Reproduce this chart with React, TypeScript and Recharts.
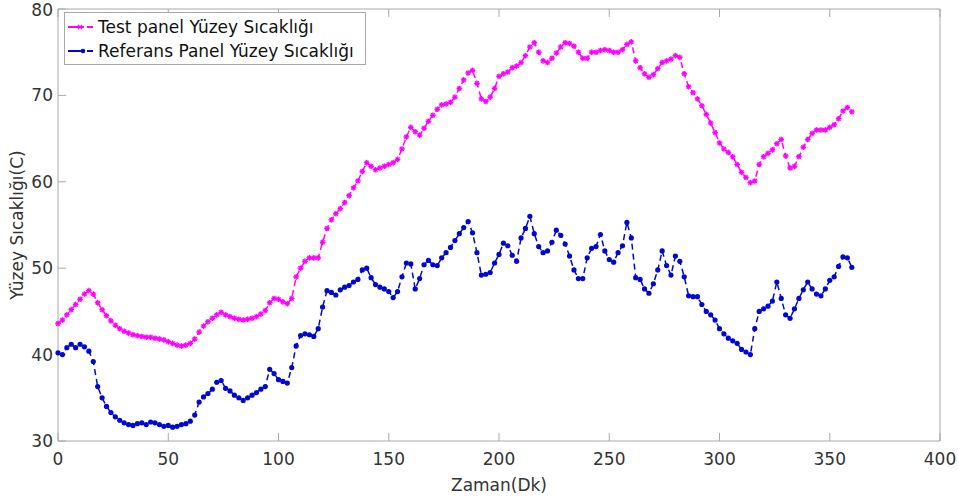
import React from "react";
import { LineChart, Line, XAxis, YAxis } from "recharts";

// Zaman (dakika) ekseni
const minutes = [
  0, 2, 4, 6, 8, 10, 12, 14, 16, 18, 20, 22, 24, 26, 28, 30, 32, 34, 36, 38,
  40, 42, 44, 46, 48, 50, 52, 54, 56, 58, 60, 62, 64, 66, 68, 70, 72, 74, 76, 78,
  80, 82, 84, 86, 88, 90, 92, 94, 96, 98, 100, 102, 104, 106, 108, 110, 112, 114, 116, 118,
  120, 122, 124, 126, 128, 130, 132, 134, 136, 138, 140, 142, 144, 146, 148, 150, 152, 154, 156, 158,
  160, 162, 164, 166, 168, 170, 172, 174, 176, 178, 180, 182, 184, 186, 188, 190, 192, 194, 196, 198,
  200, 202, 204, 206, 208, 210, 212, 214, 216, 218, 220, 222, 224, 226, 228, 230, 232, 234, 236, 238,
  240, 242, 244, 246, 248, 250, 252, 254, 256, 258, 260, 262, 264, 266, 268, 270, 272, 274, 276, 278,
  280, 282, 284, 286, 288, 290, 292, 294, 296, 298, 300, 302, 304, 306, 308, 310, 312, 314, 316, 318,
  320, 322, 324, 326, 328, 330, 332, 334, 336, 338, 340, 342, 344, 346, 348, 350, 352, 354, 356, 358,
  360,
];

// Test paneli yüzey sıcaklığı
const testPanel = [
  43.6, 44.0, 44.6, 45.2, 45.8, 46.4, 47.0, 47.4, 47.0, 46.0, 45.2, 44.5, 43.9, 43.4, 43.0, 42.7, 42.5, 42.3, 42.2, 42.1,
  42.0, 42.0, 41.9, 41.8, 41.7, 41.5, 41.3, 41.1, 41.0, 41.1, 41.3, 41.8, 42.6, 43.3, 43.8, 44.2, 44.6, 44.9, 44.6, 44.4,
  44.2, 44.1, 44.0, 44.1, 44.2, 44.4, 44.7, 45.1, 46.0, 46.5, 46.4, 46.1, 45.9, 46.5, 49.0, 50.0, 50.8, 51.2, 51.2, 51.2,
  53.0, 54.6, 55.6, 56.3, 56.9, 57.6, 58.4, 59.3, 60.1, 61.2, 62.2, 61.8, 61.4, 61.6, 61.8, 62.0, 62.2, 62.6, 63.8, 65.2,
  66.3, 65.8, 65.4, 66.2, 67.0, 67.7, 68.4, 68.9, 69.0, 69.2, 69.8, 70.8, 71.8, 72.6, 72.9, 71.4, 69.6, 69.3, 69.8, 70.8,
  72.2, 72.5, 72.7, 73.2, 73.4, 73.8, 74.6, 75.6, 76.1, 75.0, 74.0, 73.8, 74.3, 74.9, 75.6, 76.1, 76.0, 75.7, 75.0, 74.3,
  74.3, 75.0, 75.0, 75.2, 75.3, 75.2, 75.0, 75.0, 75.3, 75.9, 76.2, 74.0, 73.2, 72.5, 72.1, 72.4, 73.1, 73.8, 74.0, 74.2,
  74.6, 74.4, 72.5, 71.0, 70.3, 69.6, 68.8, 67.8, 66.8, 65.7, 64.5, 63.8, 63.4, 62.9, 62.0, 61.1, 60.5, 59.9, 60.1, 62.0,
  62.9, 63.3, 63.7, 64.4, 64.9, 63.0, 61.6, 61.8, 62.9, 64.0, 64.9, 65.6, 66.0, 66.0, 66.0, 66.3, 66.6, 67.3, 68.2, 68.6,
  68.1,
];

// Referans paneli yüzey sıcaklığı
const referansPanel = [
  40.2, 40.0, 40.8, 41.2, 40.8, 41.2, 40.9, 40.4, 39.2, 36.3, 35.0, 34.0, 33.3, 32.8, 32.4, 32.1, 31.9, 31.8, 32.0, 32.1,
  31.9, 32.2, 32.1, 31.9, 31.7, 31.8, 31.6, 31.7, 31.9, 32.0, 32.3, 33.0, 34.5, 35.1, 35.5, 36.0, 36.8, 37.0, 36.1, 35.8,
  35.3, 35.0, 34.7, 35.0, 35.3, 35.6, 36.0, 36.3, 38.3, 37.8, 37.1, 36.9, 36.7, 38.5, 41.0, 42.2, 42.4, 42.3, 42.1, 43.0,
  45.5, 47.4, 47.2, 46.9, 47.5, 47.8, 48.0, 48.4, 48.7, 49.8, 50.0, 48.9, 48.1, 47.8, 47.6, 47.3, 46.6, 47.3, 49.0, 50.6,
  50.5, 47.6, 48.8, 50.4, 50.9, 50.4, 50.3, 51.2, 51.8, 52.4, 53.2, 54.0, 54.7, 55.4, 54.1, 51.8, 49.2, 49.3, 49.5, 50.6,
  51.6, 52.9, 52.6, 51.5, 50.8, 53.5, 54.6, 56.0, 54.0, 52.5, 51.8, 52.0, 53.0, 54.4, 53.8, 52.8, 51.4, 49.8, 48.8, 48.8,
  51.2, 52.3, 52.5, 53.9, 52.0, 51.0, 50.7, 51.8, 52.6, 55.3, 53.5, 48.9, 48.7, 47.6, 47.1, 48.2, 49.8, 52.0, 50.3, 49.2,
  51.4, 50.8, 49.0, 46.8, 46.7, 46.7, 45.8, 45.0, 44.6, 44.0, 43.0, 42.4, 41.9, 41.6, 41.3, 40.6, 40.3, 40.0, 43.0, 45.0,
  45.3, 45.6, 46.2, 48.4, 46.5, 44.6, 44.2, 45.3, 46.5, 47.5, 48.4, 47.6, 47.0, 46.8, 47.6, 48.6, 49.0, 50.2, 51.3, 51.2,
  50.1,
];

const xTicks = [0, 50, 100, 150, 200, 250, 300, 350, 400];
const yTicks = [30, 40, 50, 60, 70, 80];

const seriesNames = ["Test panel Yüzey Sıcaklığı", "Referans Panel Yüzey Sıcaklığı"];

const data = minutes.map((t, i) => ({
  t,
  test: testPanel[i],
  ref: referansPanel[i],
}));

const MAGENTA = "#ff00ff";
const BLUE = "#0008d0";
const AXIS = "#a8a8a8";
const FONT = "'DejaVu Sans', sans-serif";

// yıldız işaretçi (*)
const StarDot = (props: any) => {
  const { cx, cy, index } = props;
  if (cx == null || cy == null) return <g key={index} />;
  const r = 2.8;
  const d = r * 0.7;
  return (
    <g key={index} stroke={MAGENTA} strokeWidth={1.4}>
      <line x1={cx - r} y1={cy} x2={cx + r} y2={cy} />
      <line x1={cx} y1={cy - r} x2={cx} y2={cy + r} />
      <line x1={cx - d} y1={cy - d} x2={cx + d} y2={cy + d} />
      <line x1={cx - d} y1={cy + d} x2={cx + d} y2={cy - d} />
    </g>
  );
};

// nokta işaretçi (.)
const PointDot = (props: any) => {
  const { cx, cy, index } = props;
  if (cx == null || cy == null) return <g key={index} />;
  return <circle key={index} cx={cx} cy={cy} r={2.6} fill={BLUE} />;
};

const tickStyle = { fill: "#333", fontSize: 17, fontFamily: FONT };

const LegendBox = () => (
  <div
    style={{
      position: "absolute",
      left: 64,
      top: 12,
      width: 300,
      height: 51,
      border: `1px solid ${AXIS}`,
      background: "#fff",
      fontFamily: FONT,
      fontSize: 17,
      color: "#111",
    }}
  >
    {[MAGENTA, BLUE].map((c, i) => (
      <div
        key={i}
        style={{ position: "absolute", left: 2, top: 3 + i * 24, height: 22, display: "flex", alignItems: "center", whiteSpace: "nowrap" }}
      >
        <svg width={30} height={12} style={{ marginRight: 1 }}>
          <line x1={1} y1={6} x2={29} y2={6} stroke={c} strokeWidth={2} strokeDasharray="16 3 6 3" />
          {i === 0 ? (
            <g stroke={c} strokeWidth={1.3}>
              <line x1={11} y1={4} x2={15} y2={8} />
              <line x1={11} y1={8} x2={15} y2={4} />
            </g>
          ) : (
            <circle cx={16} cy={6} r={2.3} fill={c} />
          )}
        </svg>
        <span>{seriesNames[i]}</span>
      </div>
    ))}
  </div>
);

export default function App() {
  return (
    <div style={{ position: "absolute", left: 0, top: 0, width: 958, height: 499, background: "#fff" }}>
      <LineChart width={958} height={499} data={data} margin={{ top: 8, right: 17, bottom: 0, left: 0 }}>
        <XAxis
          dataKey="t"
          type="number"
          domain={[0, 400]}
          ticks={xTicks}
          height={58}
          stroke={AXIS}
          tickSize={-8}
          tickMargin={20}
          tick={tickStyle}
          tickLine={{ stroke: AXIS }}
          label={(p: any) => {
            const vb = p.viewBox;
            return (
              <text x={vb.x + vb.width / 2} y={vb.y + 50} textAnchor="middle" fill="#333" fontSize={17} fontFamily={FONT}>
                Zaman(Dk)
              </text>
            );
          }}
        />
        <XAxis
          xAxisId="top"
          orientation="top"
          dataKey="t"
          type="number"
          domain={[0, 400]}
          ticks={xTicks}
          height={1}
          stroke={AXIS}
          tickSize={-8}
          tick={() => <g />}
          tickLine={{ stroke: AXIS }}
        />
        <YAxis
          type="number"
          domain={[30, 80]}
          ticks={yTicks}
          width={58}
          stroke={AXIS}
          tickSize={-8}
          tickMargin={13}
          tick={tickStyle}
          tickLine={{ stroke: AXIS }}
          label={(p: any) => {
            const vb = p.viewBox;
            const x = vb.x + 23;
            const y = vb.y + vb.height / 2;
            return (
              <text x={x} y={y} transform={`rotate(-90 ${x} ${y})`} textAnchor="middle" fill="#333" fontSize={17} fontFamily={FONT}>
                Yüzey Sıcaklığı(C)
              </text>
            );
          }}
        />
        <YAxis
          yAxisId="right"
          orientation="right"
          type="number"
          domain={[30, 80]}
          ticks={yTicks}
          width={1}
          stroke={AXIS}
          tickSize={-8}
          tick={() => <g />}
          tickLine={{ stroke: AXIS }}
        />
        <Line
          type="linear"
          dataKey="test"
          stroke={MAGENTA}
          strokeWidth={1.5}
          strokeDasharray="6 4"
          dot={StarDot}
          activeDot={false}
          isAnimationActive={false}
        />
        <Line
          type="linear"
          dataKey="ref"
          stroke={BLUE}
          strokeWidth={1.5}
          strokeDasharray="6 4"
          dot={PointDot}
          activeDot={false}
          isAnimationActive={false}
        />
      </LineChart>
      <LegendBox />
    </div>
  );
}
